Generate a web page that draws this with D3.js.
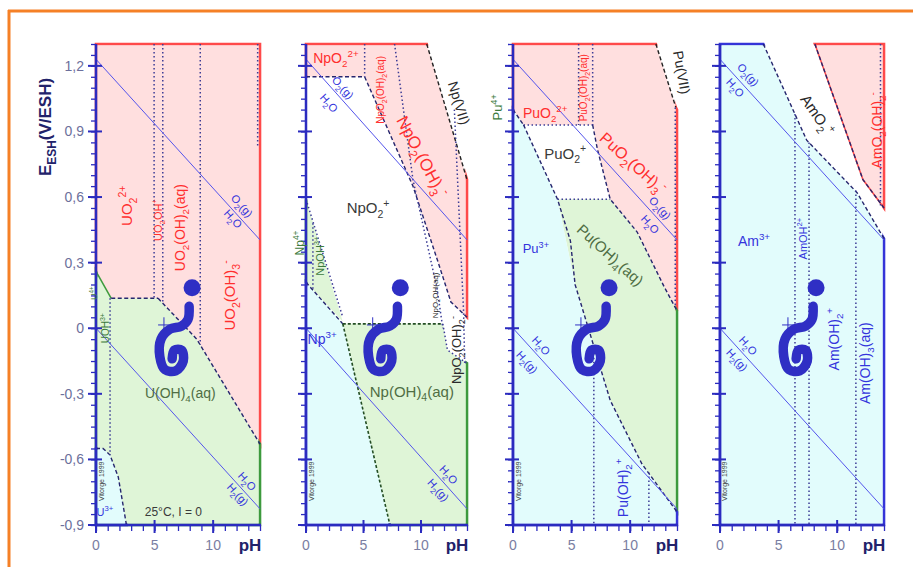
<!DOCTYPE html>
<html><head><meta charset="utf-8">
<script src="https://cdn.jsdelivr.net/npm/d3@7"></script>
<style>body{margin:0;background:#fff}svg{display:block;font-family:"Liberation Sans",Arial,sans-serif}</style>
</head><body><svg id="c" width="913" height="567"></svg>
<script>
// ---------------- data ----------------
const panelNames = ["U", "Np", "Pu", "Am"];
const phDomain = [0, 14];
const eDomain = [-0.9, 1.3];
const eTickValues = [1.2, 0.9, 0.6, 0.3, 0, -0.3, -0.6, -0.9];
const eTickLabels = ["1,2", "0,9", "0,6", "0,3", "0", "-0,3", "-0,6", "-0,9"];
const phTickValues = [0, 5, 10];
const phTickLabels = ["0", "5", "10"];

// water stability limits (pH, E)
const waterO2 = [[0, 1.23], [14, 0.404]];
const waterH2 = [[0, 0], [14, -0.826]];

// U
const uPink = [[0,1.3],[14,1.3],[14,-0.53],[8.6,-0.05],[5.3,0.137],[1.3,0.137],[0,0.26]];
const uGreen = [[0,0.26],[1.3,0.137],[5.3,0.137],[8.6,-0.05],[14,-0.53],[14,-0.9],[0,-0.9]];
const uCyan = [[0,-0.55],[0.6,-0.55],[1.2,-0.58],[1.9,-0.68],[2.6,-0.9],[0,-0.9]];
const uLines = [
  {t:"gsolid", p:[[0,0.26],[1.3,0.137]]},
  {t:"dash", p:[[1.3,0.137],[5.3,0.137]]},
  {t:"dash", p:[[5.3,0.137],[8.6,-0.05],[14,-0.53]]},
  {t:"dash", p:[[0,-0.55],[0.6,-0.55],[1.2,-0.58],[1.9,-0.68],[2.6,-0.9]]},
  {t:"dot", p:[[4.96,1.3],[4.96,0.137]]},
  {t:"dot", p:[[5.7,1.3],[5.7,0.116]]},
  {t:"dot", p:[[8.9,1.3],[8.9,-0.075]]},
  {t:"dot", p:[[13.8,1.3],[13.8,0.83]]},
  {t:"dot", p:[[1.2,0.137],[1.2,-0.58]]}
];
// Np
const npPink = [[0,1.3],[10.5,1.3],[14,0.68],[14,0.05],[12.6,0.12],[11.5,0.3],[9.3,0.65],[5.1,1.15],[0,1.15]];
const npGreenIV = [[0,0.59],[3.2,0.03],[0,0.21]];
const npGreen = [[3.2,0.02],[11.9,0.02],[12.3,-0.1],[14,-0.16],[14,-0.9],[7.3,-0.9]];
const npCyan = [[0,0.21],[3.2,0.02],[7.3,-0.9],[0,-0.9]];
const npLines = [
  {t:"dash", p:[[0,1.15],[5.1,1.15]]},
  {t:"dash", p:[[5.1,1.15],[9.3,0.65],[11.5,0.3],[12.6,0.12],[14,0.05]]},
  {t:"black", p:[[10.5,1.3],[14,0.68]]},
  {t:"dot", p:[[5.1,1.3],[5.1,1.15]]},
  {t:"dot", p:[[7.7,1.3],[9.3,0.68],[11.4,0.18],[11.9,0.0]]},
  {t:"dot", p:[[12.9,1.0],[13.7,0.08],[13.8,-0.16]]},
  {t:"dot", p:[[0,0.59],[3.2,0.05]]},
  {t:"dot", p:[[0.6,0.48],[0.6,0.18]]},
  {t:"dash", p:[[0,0.21],[3.2,0.02]]},
  {t:"gdash", p:[[3.2,0.02],[11.9,0.02]]},
  {t:"gdash", p:[[3.2,0.02],[7.3,-0.9]]},
  {t:"dot", p:[[11.9,0.02],[12.3,-0.1],[14,-0.16]]}
];
// Pu
const puPink = [[0,1.3],[12.2,1.3],[13.9,1.01],[14,1.0],[14,0.08],[12.9,0.19],[10.6,0.44],[8.3,0.59],[7.2,0.82],[6.8,0.93],[0.9,0.93],[0,1.0]];
const puGreen = [[3.8,0.59],[8.3,0.59],[10.6,0.44],[12.9,0.19],[14,0.08],[14,-0.84],[11,-0.62],[8.3,-0.33],[5.3,0.2]];
const puCyan = [[0,1.0],[0.9,0.93],[3.8,0.59],[5.3,0.2],[8.3,-0.33],[11,-0.62],[14,-0.84],[14,-0.9],[0,-0.9]];
const puLines = [
  {t:"black", p:[[12.2,1.3],[13.9,1.01]]},
  {t:"dot", p:[[13.85,1.01],[13.85,0.1]]},
  {t:"dash", p:[[0,1.0],[0.9,0.93]]},
  {t:"dot", p:[[0.9,0.93],[6.8,0.93]]},
  {t:"dot", p:[[5.6,1.3],[5.6,0.93]]},
  {t:"dot", p:[[6.8,1.3],[6.8,0.93]]},
  {t:"dash", p:[[6.8,0.93],[7.2,0.82],[8.3,0.59],[10.6,0.44],[12.9,0.19],[14,0.08]]},
  {t:"dash", p:[[0.9,0.93],[3.8,0.59],[4.9,0.4],[5.3,0.2],[8.3,-0.33],[11,-0.62],[14,-0.84]]},
  {t:"dot", p:[[3.8,0.59],[8.3,0.59]]},
  {t:"dot", p:[[6.9,-0.08],[6.9,-0.9]]},
  {t:"dot", p:[[11.6,-0.66],[11.6,-0.9]]}
];
// Am
const amCyan = [[0,1.3],[3.7,1.3],[7.4,0.86],[11.7,0.62],[14,0.41],[14,-0.9],[0,-0.9]];
const amPink = [[8.1,1.3],[14,1.3],[14,0.55],[12.2,0.68]];
const amLines = [
  {t:"dash", p:[[3.7,1.3],[7.4,0.86],[11.7,0.62],[14,0.41]]},
  {t:"red", p:[[8.1,1.3],[12.2,0.68],[14,0.55]]},
  {t:"dash", p:[[8.1,1.3],[12.2,0.68],[14,0.55]]},
  {t:"dot", p:[[13.7,1.3],[13.7,0.56]]},
  {t:"dot", p:[[6.4,0.98],[6.4,-0.9]]},
  {t:"dot", p:[[7.6,0.85],[7.6,-0.9]]},
  {t:"dot", p:[[11.6,0.63],[11.6,-0.9]]}
];

// logo (same in each panel)
const snakePts = [[7.95,0.10],[7.85,0.04],[7.3,0.01],[6.3,-0.005],[5.55,-0.05],[5.45,-0.13],[5.9,-0.19],[6.8,-0.195],[7.45,-0.15],[7.3,-0.10],[6.7,-0.10],[6.5,-0.14]];
const snakeHead = [8.2, 0.185];
const crossH = [[5.3,0.015],[6.3,0.015]];
const crossV = [[5.8,0.05],[5.8,-0.02]];

// ---------------- layout / labels ----------------
const labelColor = {red:"#ff2e2e", blue:"#3434dc", green:"#4f6e44", dgreen:"#3c7a3c", black:"#2a2a2a", gray:"#3a3a3a"};
// [text, pH, E, rotation, color, size]
const uLabels = [
  ["UO_2^{2+}",2.65,0.56,-90,"red",15],
  ["UO_2OH^+",5.3,0.495,-90,"red",11],
  ["UO_2(OH)_2(aq)",7.2,0.46,-90,"red",14],
  ["UO_2(OH)_3^-",11.45,0.15,-90,"red",15],
  ["U(OH)_4(aq)",7.2,-0.295,0,"green",14],
  ["U^{3+}",0.75,-0.84,0,"blue",11],
  ["25°C, I = 0",6.6,-0.84,0,"gray",12],
  ["U^{4+}",-0.15,0.16,-90,"dgreen",9],
  ["UOH^{3+}",0.85,0.0,-90,"dgreen",10],
  ["Vitorge 1999",0.45,-0.70,-90,"gray",7],
  ["O_2(g)",12.45,0.56,48,"blue",11],
  ["H_2O",11.7,0.50,48,"blue",11],
  ["H_2O",12.9,-0.70,48,"blue",11],
  ["H_2(g)",12.1,-0.76,48,"blue",11]
];
const npLabels = [
  ["NpO_2^{2+}",2.6,1.235,0,"red",14],
  ["NpO_2(OH)_2(aq)",6.45,1.09,-90,"red",10],
  ["NpO_2(OH)_3^-",10.1,0.785,62,"red",17],
  ["Np(VII)",13.3,1.03,73,"black",14],
  ["NpO_2^+",5.4,0.55,0,"gray",15],
  ["Np^{4+}",-0.5,0.39,-90,"dgreen",12],
  ["NpOH^{3+}",1.2,0.33,-90,"dgreen",11],
  ["Np^{3+}",1.4,-0.05,0,"blue",14],
  ["Np(OH)_4(aq)",9.2,-0.29,0,"green",15],
  ["NpO_2OH(aq)",11.2,0.15,-90,"black",8],
  ["NpO_2(OH)_2^-",13.1,-0.10,-90,"black",13],
  ["Vitorge 1999",0.45,-0.70,-90,"gray",7],
  ["O_2(g)",3.2,1.10,48,"blue",11],
  ["H_2O",2.0,1.03,48,"blue",11],
  ["H_2O",12.4,-0.67,48,"blue",11],
  ["H_2(g)",11.5,-0.74,48,"blue",11]
];
const puLabels = [
  ["Pu^{4+}",-1.3,1.01,-90,"dgreen",13],
  ["PuO_2^{2+}",2.75,0.985,0,"red",14],
  ["PuO_2(OH)_2(aq)",6.05,1.1,-90,"red",10],
  ["PuO_2^+",4.45,0.8,0,"gray",15],
  ["PuO_2(OH)_3^-",10.25,0.755,42,"red",16],
  ["Pu(VII)",14.4,1.17,80,"black",14],
  ["Pu(OH)_4(aq)",8.3,0.335,42,"green",15],
  ["Pu^{3+}",1.95,0.365,0,"blue",13],
  ["Pu(OH)_2^+",9.4,-0.73,-90,"blue",14],
  ["Vitorge 1999",0.45,-0.70,-90,"gray",7],
  ["O_2(g)",12.55,0.55,48,"blue",11],
  ["H_2O",11.7,0.475,48,"blue",11],
  ["H_2O",2.4,-0.08,48,"blue",11],
  ["H_2(g)",1.2,-0.155,48,"blue",11]
];
const amLabels = [
  ["Am^{3+}",2.9,0.4,0,"blue",14],
  ["AmOH^{2+}",7.1,0.41,-90,"blue",11],
  ["AmO_2^+",8.3,0.975,55,"black",15],
  ["AmO_2(OH)_2^-",13.4,0.905,-90,"red",14],
  ["Am(OH)_2^+",9.75,-0.05,-90,"blue",14],
  ["Am(OH)_3(aq)",12.4,-0.16,-90,"blue",14],
  ["Vitorge 1999",0.35,-0.70,-90,"gray",7],
  ["O_2(g)",2.4,1.16,48,"blue",11],
  ["H_2O",1.3,1.10,48,"blue",11],
  ["H_2O",2.4,-0.08,48,"blue",11],
  ["H_2(g)",1.45,-0.145,48,"blue",11]
];

const panels = [
  {regions:[["pink",uPink],["green",uGreen],["cyan",uCyan]], lines:uLines, labels:uLabels},
  {regions:[["pink",npPink],["green",npGreenIV],["green",npGreen],["cyan",npCyan]], lines:npLines, labels:npLabels},
  {regions:[["pink",puPink],["green",puGreen],["cyan",puCyan]], lines:puLines, labels:puLabels},
  {regions:[["cyan",amCyan],["pink",amPink]], lines:amLines, labels:amLabels}
];
const panelX = [[96,260],[306,467],[513,677],[720,884]];
const yRange = [525, 44];

const fillC = {pink:"#ffdfdf", green:"#dff5d7", cyan:"#e2fcfc"};
const edgeC = {pink:"#ff4a4a", green:"#3d9a3d", cyan:"#3434d8"};
const lineStyle = {
  dash:{s:"#26266e", w:1.4, d:"4,2.5"},
  gdash:{s:"#234d23", w:1.6, d:"3,2"},
  dot:{s:"#3c3c96", w:1.5, d:"1.5,2.5"},
  black:{s:"#222", w:1.4, d:"4,2.5"},
  gsolid:{s:"#3d9a3d", w:1.5, d:null},
  red:{s:"#ff4a4a", w:1.5, d:null}
};
const axisC = "#2b2bbf";

// ---------------- helpers ----------------
function rich(sel, str, fs) {
  const re = /(_\{[^}]*\}|\^\{[^}]*\}|_[^_^{]|\^[^_^{]|[^_^]+)/g;
  let m, cur = 0;
  while ((m = re.exec(str))) {
    let t = m[0], shift = 0, size = fs;
    if (t[0] === "_") { t = t[1] === "{" ? t.slice(2, -1) : t.slice(1); shift = fs * 0.3; size = fs * 0.7; }
    else if (t[0] === "^") { t = t[1] === "{" ? t.slice(2, -1) : t.slice(1); shift = -fs * 0.42; size = fs * 0.7; }
    sel.append("tspan").attr("dy", shift - cur).attr("font-size", size).text(t);
    cur = shift;
  }
}

// ---------------- draw ----------------
const svg = d3.select("#c");
const defs = svg.append("defs");

// orange frame
svg.append("line").attr("x1",8).attr("x2",913).attr("y1",11).attr("y2",11).attr("stroke","#f58026").attr("stroke-width",3);
svg.append("line").attr("x1",9).attr("x2",9).attr("y1",10).attr("y2",567).attr("stroke","#f58026").attr("stroke-width",3);

// axis title
const at = svg.append("text").attr("transform","translate(51,127) rotate(-90)").attr("text-anchor","middle")
  .attr("font-weight","bold").attr("fill","#22226a").attr("font-size",17);
rich(at, "E_{ESH}(V/ESH)", 17);

panels.forEach((P, i) => {
  const x = d3.scaleLinear().domain(phDomain).range(panelX[i]);
  const y = d3.scaleLinear().domain(eDomain).range(yRange);
  const g = svg.append("g");
  const x0 = x(0), x1 = x(14), yt = y(1.3), yb = y(-0.9);
  const line = d3.line().x(d => x(d[0])).y(d => y(d[1]));

  // fills
  g.selectAll("path.fill").data(P.regions).join("path").attr("class","fill")
    .attr("d", d => line(d[1]) + "Z").attr("fill", d => fillC[d[0]]).attr("stroke","none");

  // border band mask: region colours only on the panel frame
  const mk = defs.append("mask").attr("id","m"+i).attr("maskUnits","userSpaceOnUse");
  mk.append("rect").attr("x",x0-3).attr("y",yt-3).attr("width",x1-x0+6).attr("height",yb-yt+6).attr("fill","#fff");
  mk.append("rect").attr("x",x0+1.6).attr("y",yt+1.6).attr("width",x1-x0-3.2).attr("height",yb-yt-3.2).attr("fill","#000");
  g.append("g").attr("mask","url(#m"+i+")").selectAll("path").data(P.regions).join("path")
    .attr("d", d => line(d[1]) + "Z").attr("fill","none").attr("stroke", d => edgeC[d[0]]).attr("stroke-width",2.6);

  // boundary lines
  g.selectAll("path.bl").data(P.lines).join("path").attr("class","bl")
    .attr("d", d => line(d.p)).attr("fill","none")
    .attr("stroke", d => lineStyle[d.t].s).attr("stroke-width", d => lineStyle[d.t].w)
    .attr("stroke-dasharray", d => lineStyle[d.t].d);

  // water lines
  [waterO2, waterH2].forEach(w => g.append("path").attr("d", line(w)).attr("fill","none").attr("stroke","#5454ec").attr("stroke-width",1));

  // axes: minor ticks
  const minorE = d3.range(-18, 27).map(k => +(k * 0.05).toFixed(2));
  g.append("g").attr("transform",`translate(${x0},0)`)
    .call(d3.axisLeft(y).tickValues(minorE).tickSize(5).tickFormat(""))
    .call(s => { s.select(".domain").remove(); s.selectAll("line").attr("stroke",axisC).attr("stroke-width",1.3); });
  g.append("g").attr("transform",`translate(0,${yb})`)
    .call(d3.axisBottom(x).tickValues(d3.range(0,15)).tickSize(6).tickFormat(""))
    .call(s => { s.select(".domain").remove(); s.selectAll("line").attr("stroke",axisC).attr("stroke-width",1.3); });
  // major ticks
  g.selectAll("line.me").data(eTickValues).join("line").attr("class","me")
    .attr("x1", x0-8).attr("x2", x0+6).attr("y1", d => y(d)).attr("y2", d => y(d)).attr("stroke",axisC).attr("stroke-width",2);
  g.selectAll("line.mp").data(phTickValues).join("line").attr("class","mp")
    .attr("x1", d => x(d)).attr("x2", d => x(d)).attr("y1", yb-5).attr("y2", yb+8).attr("stroke",axisC).attr("stroke-width",2);
  // axis lines
  g.append("line").attr("x1",x0).attr("x2",x0).attr("y1",yt).attr("y2",yb+1).attr("stroke",axisC).attr("stroke-width",2.5);
  g.append("line").attr("x1",x0-1).attr("x2",x1+1).attr("y1",yb).attr("y2",yb).attr("stroke",axisC).attr("stroke-width",2.5);

  // tick labels
  if (i === 0) {
    g.selectAll("text.el").data(eTickValues).join("text").attr("class","el")
      .attr("x", x0-12).attr("y", d => y(d)+5).attr("text-anchor","end")
      .attr("font-size",14).attr("fill","#6c6f9c").text((d, k) => eTickLabels[k]);
  }
  g.selectAll("text.pl").data(phTickValues).join("text").attr("class","pl")
    .attr("x", d => x(d)).attr("y", yb+25).attr("text-anchor","middle")
    .attr("font-size",14).attr("fill","#7a7ea2").text((d, k) => phTickLabels[k]);
  g.append("text").attr("x", x1-10).attr("y", yb+26).attr("text-anchor","middle")
    .attr("font-size",17).attr("font-weight","bold").attr("fill","#22226a").text("pH");

  // labels
  P.labels.forEach(L => {
    const [txt, ph, e, rot, col, fs] = L;
    const t = g.append("text").attr("transform",`translate(${x(ph)},${y(e)}) rotate(${rot})`)
      .attr("text-anchor","middle").attr("y", fs*0.35).attr("fill", labelColor[col]).attr("font-size", fs);
    rich(t, txt, fs);
  });

  // logo
  const sc = "#2f2fc4";
  g.append("path").attr("d", line(crossH)).attr("stroke",sc).attr("stroke-width",1).attr("fill","none");
  g.append("path").attr("d", line(crossV)).attr("stroke",sc).attr("stroke-width",1).attr("fill","none");
  g.append("path").attr("d", d3.line().x(d => x(d[0])).y(d => y(d[1])).curve(d3.curveCatmullRom)(snakePts))
    .attr("fill","none").attr("stroke",sc).attr("stroke-width",9.5).attr("stroke-linecap","round").attr("stroke-linejoin","round");
  g.append("circle").attr("cx", x(snakeHead[0])).attr("cy", y(snakeHead[1])).attr("r",8.5).attr("fill",sc);
});
</script></body></html>
